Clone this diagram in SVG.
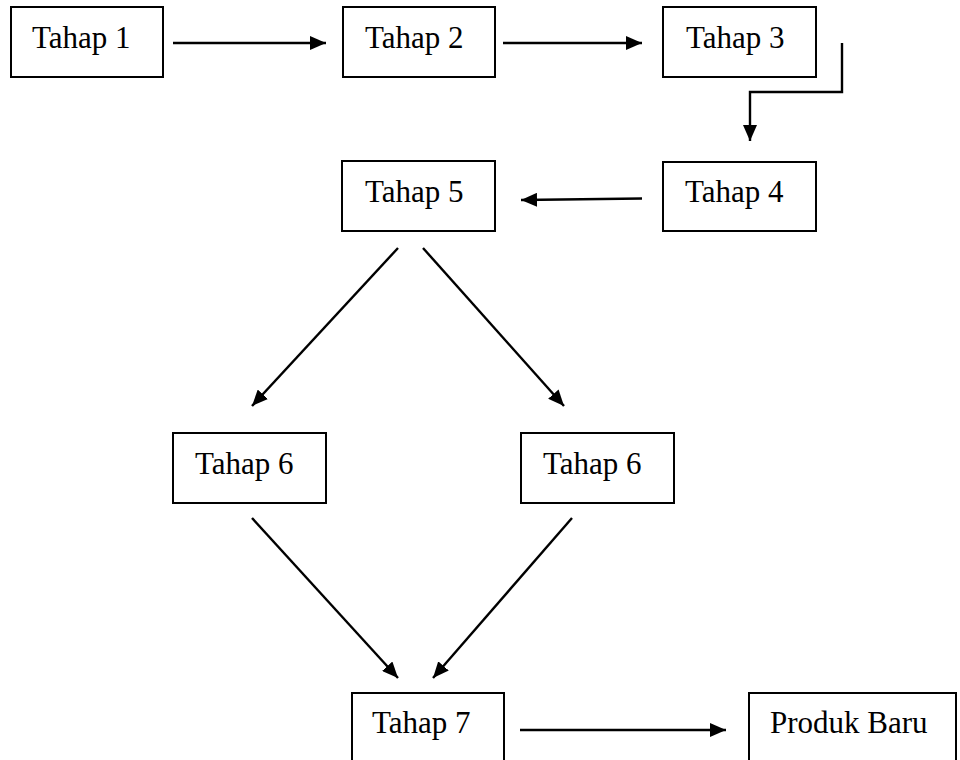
<svg xmlns="http://www.w3.org/2000/svg" width="960" height="760" viewBox="0 0 960 760">
<style>
.box{fill:#fff;stroke:#000;stroke-width:2}
.lbl{font-family:"Liberation Serif","Times New Roman",serif;font-size:31px;fill:#000}
.conn{fill:none;stroke:#000;stroke-width:2.4}
</style>
<defs>
<marker id="ah" viewBox="0 0 16 14" refX="16" refY="7" markerWidth="16" markerHeight="14" markerUnits="userSpaceOnUse" orient="auto">
<path d="M0,0 L16,7 L0,14 z" fill="#000"/>
</marker>
</defs>
<rect width="960" height="760" fill="#fff"/>
<g id="n1"><rect class="box" x="11" y="7" width="152" height="70"/><text class="lbl" x="32" y="48">Tahap 1</text></g>
<g id="n2"><rect class="box" x="343" y="7" width="152" height="70"/><text class="lbl" x="365" y="48">Tahap 2</text></g>
<g id="n3"><rect class="box" x="663" y="7" width="153" height="70"/><text class="lbl" x="686" y="48">Tahap 3</text></g>
<g id="n4"><rect class="box" x="663" y="162" width="153" height="69"/><text class="lbl" x="685" y="202">Tahap 4</text></g>
<g id="n5"><rect class="box" x="342" y="161" width="153" height="70"/><text class="lbl" x="365" y="202">Tahap 5</text></g>
<g id="n6a"><rect class="box" x="173" y="433" width="153" height="70"/><text class="lbl" x="195" y="474">Tahap 6</text></g>
<g id="n6b"><rect class="box" x="521" y="433" width="153" height="70"/><text class="lbl" x="543" y="474">Tahap 6</text></g>
<g id="n7"><rect class="box" x="352" y="693" width="152" height="80"/><text class="lbl" x="372" y="733">Tahap 7</text></g>
<g id="n8"><rect class="box" x="749" y="693" width="207" height="80"/><text class="lbl" x="770" y="733">Produk Baru</text></g>
<g id="connectors">
<line class="conn" x1="173" y1="43" x2="326" y2="43" marker-end="url(#ah)"/>
<line class="conn" x1="503" y1="43" x2="642" y2="43" marker-end="url(#ah)"/>
<polyline class="conn" points="842,43 842,92 750,92 750,141" marker-end="url(#ah)"/>
<line class="conn" x1="642" y1="198.5" x2="521" y2="200" marker-end="url(#ah)"/>
<line class="conn" x1="398" y1="248" x2="252" y2="406" marker-end="url(#ah)"/>
<line class="conn" x1="423" y1="248" x2="564" y2="406" marker-end="url(#ah)"/>
<line class="conn" x1="252" y1="518" x2="398" y2="678" marker-end="url(#ah)"/>
<line class="conn" x1="572" y1="518" x2="433" y2="678" marker-end="url(#ah)"/>
<line class="conn" x1="520" y1="730" x2="726" y2="730" marker-end="url(#ah)"/>
</g>
</svg>
